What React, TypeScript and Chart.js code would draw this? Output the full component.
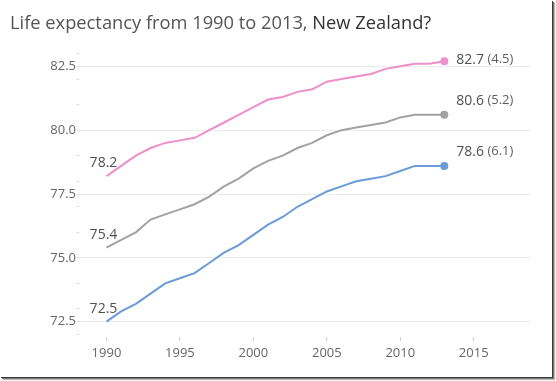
import React, { useEffect, useRef } from "react";
import { Chart, registerables } from "chart.js";

Chart.register(...registerables);

const years = [1990, 1991, 1992, 1993, 1994, 1995, 1996, 1997, 1998, 1999, 2000, 2001, 2002, 2003, 2004, 2005, 2006, 2007, 2008, 2009, 2010, 2011, 2012, 2013];
const seriesPink = [78.2, 78.6, 79.0, 79.3, 79.5, 79.6, 79.7, 80.0, 80.3, 80.6, 80.9, 81.2, 81.3, 81.5, 81.6, 81.9, 82.0, 82.1, 82.2, 82.4, 82.5, 82.6, 82.6, 82.7];
const seriesGray = [75.4, 75.7, 76.0, 76.5, 76.7, 76.9, 77.1, 77.4, 77.8, 78.1, 78.5, 78.8, 79.0, 79.3, 79.5, 79.8, 80.0, 80.1, 80.2, 80.3, 80.5, 80.6, 80.6, 80.6];
const seriesBlue = [72.5, 72.9, 73.2, 73.6, 74.0, 74.2, 74.4, 74.8, 75.2, 75.5, 75.9, 76.3, 76.6, 77.0, 77.3, 77.6, 77.8, 78.0, 78.1, 78.2, 78.4, 78.6, 78.6, 78.6];
const xTicks = [1990, 1995, 2000, 2005, 2010, 2015];
const yMajorTicks = [72.5, 75.0, 77.5, 80.0, 82.5];
const yMinorTicks = [72, 73, 74, 75, 76, 77, 78, 79, 80, 81, 82, 83];
const titleMain = "Life expectancy from 1990 to 2013,";
const titleTail = " New Zealand?";

const FONT = "'Open Sans', 'Noto Sans', sans-serif";
const colors = ["#ee8fc9", "#a2a2a2", "#6b9bd7"];
const endDy = [-1, -14, -14];

const labelPlugin = {
  id: "lineLabels",
  afterDatasetsDraw(chart: any) {
    const ctx = chart.ctx;
    ctx.save();
    chart.data.datasets.forEach((ds: any, i: number) => {
      const meta = chart.getDatasetMeta(i);
      const pts = meta.data;
      const first = pts[0];
      const last = pts[pts.length - 1];
      const v0 = ds.data[0].y;
      const v1 = ds.data[ds.data.length - 1].y;
      // start label
      ctx.fillStyle = "#505050";
      ctx.font = `14px ${FONT}`;
      ctx.textAlign = "center";
      ctx.textBaseline = "middle";
      ctx.fillText(v0.toFixed(1), first.x - 3, first.y - 13);
      // end dot
      ctx.beginPath();
      ctx.arc(last.x, last.y, 4, 0, Math.PI * 2);
      ctx.fillStyle = colors[i];
      ctx.fill();
      // end label
      ctx.textAlign = "left";
      ctx.fillStyle = "#505050";
      const main = v1.toFixed(1);
      ctx.font = `14px ${FONT}`;
      const x0 = last.x + 12;
      const y0 = last.y + endDy[i];
      ctx.fillText(main, x0, y0);
      const w = ctx.measureText(main).width;
      ctx.font = `13px ${FONT}`;
      ctx.fillStyle = "#606060";
      ctx.fillText(" (" + (v1 - v0).toFixed(1) + ")", x0 + w, y0 - 1);
    });
    ctx.restore();
  },
};

export default function App() {
  const ref = useRef<HTMLCanvasElement>(null);

  useEffect(() => {
    document.body.style.margin = "0";
    const mk = (arr: number[]) => years.map((y, i) => ({ x: y, y: arr[i] }));
    const yAll = [...yMajorTicks, ...yMinorTicks.filter((v) => !yMajorTicks.includes(v))].sort((a, b) => a - b);
    const isMajor = (v: number) => yMajorTicks.some((m) => Math.abs(m - v) < 1e-6);
    const chart = new Chart(ref.current as HTMLCanvasElement, {
      type: "line",
      data: {
        datasets: [
          { data: mk(seriesPink), borderColor: colors[0], borderWidth: 2, pointRadius: 0, tension: 0 },
          { data: mk(seriesGray), borderColor: colors[1], borderWidth: 2, pointRadius: 0, tension: 0 },
          { data: mk(seriesBlue), borderColor: colors[2], borderWidth: 2, pointRadius: 0, tension: 0 },
        ],
      },
      options: {
        animation: false,
        responsive: false,
        maintainAspectRatio: false,
        layout: { padding: { top: 51, right: 21, left: 0, bottom: 0 } },
        plugins: { legend: { display: false }, tooltip: { enabled: false }, title: { display: false } },
        scales: {
          x: {
            type: "linear",
            min: 1988.13,
            max: 2018.9,
            border: { display: false },
            grid: { drawOnChartArea: false, drawTicks: true, tickLength: 4, tickColor: "#d0d0d0" },
            afterBuildTicks: (s: any) => {
              s.ticks = xTicks.map((v) => ({ value: v }));
            },
            afterFit: (s: any) => {
              s.height = 39;
            },
            ticks: {
              autoSkip: false,
              maxRotation: 0,
              padding: 4,
              color: "#666666",
              font: { family: FONT, size: 13 },
              callback: (v: any) => String(v),
            },
          },
          y: {
            type: "linear",
            min: 71.9,
            max: 83.1,
            border: { display: false },
            grid: {
              drawTicks: true,
              tickLength: 2,
              color: (c: any) => (c.tick && isMajor(c.tick.value) ? "#ebebeb" : "rgba(0,0,0,0)"),
              tickColor: "#d0d0d0",
            },
            afterBuildTicks: (s: any) => {
              s.ticks = yAll.map((v) => ({ value: v }));
            },
            afterFit: (s: any) => {
              s.width = 79;
            },
            ticks: {
              autoSkip: false,
              padding: 1,
              color: "#666666",
              font: { family: FONT, size: 13 },
              callback: (v: any) => (isMajor(Number(v)) ? Number(v).toFixed(1) : ""),
            },
          },
        },
      },
      plugins: [labelPlugin],
    });
    return () => chart.destroy();
  }, []);

  return (
    <div style={{ position: "fixed", left: 0, top: 0, width: 556, height: 381, background: "#fff" }}>
      <div
        style={{
          position: "absolute",
          left: 0,
          top: 0,
          width: 552,
          height: 377,
          background: "#fff",
          boxShadow: "1px 1px 0 #3a3a3a, 2px 2px 0 #777, 3px 3px 1px #bbb",
        }}
      >
        <canvas ref={ref} width={552} height={376} style={{ position: "absolute", left: 0, top: 0 }} />
        <div
          style={{
            position: "absolute",
            left: 10,
            top: 9,
            fontFamily: FONT,
            fontSize: 18.3,
            lineHeight: "26px",
            whiteSpace: "nowrap",
            color: "#555",
          }}
        >
          {titleMain}
          <span style={{ color: "#333" }}>{titleTail}</span>
        </div>
      </div>
    </div>
  );
}
